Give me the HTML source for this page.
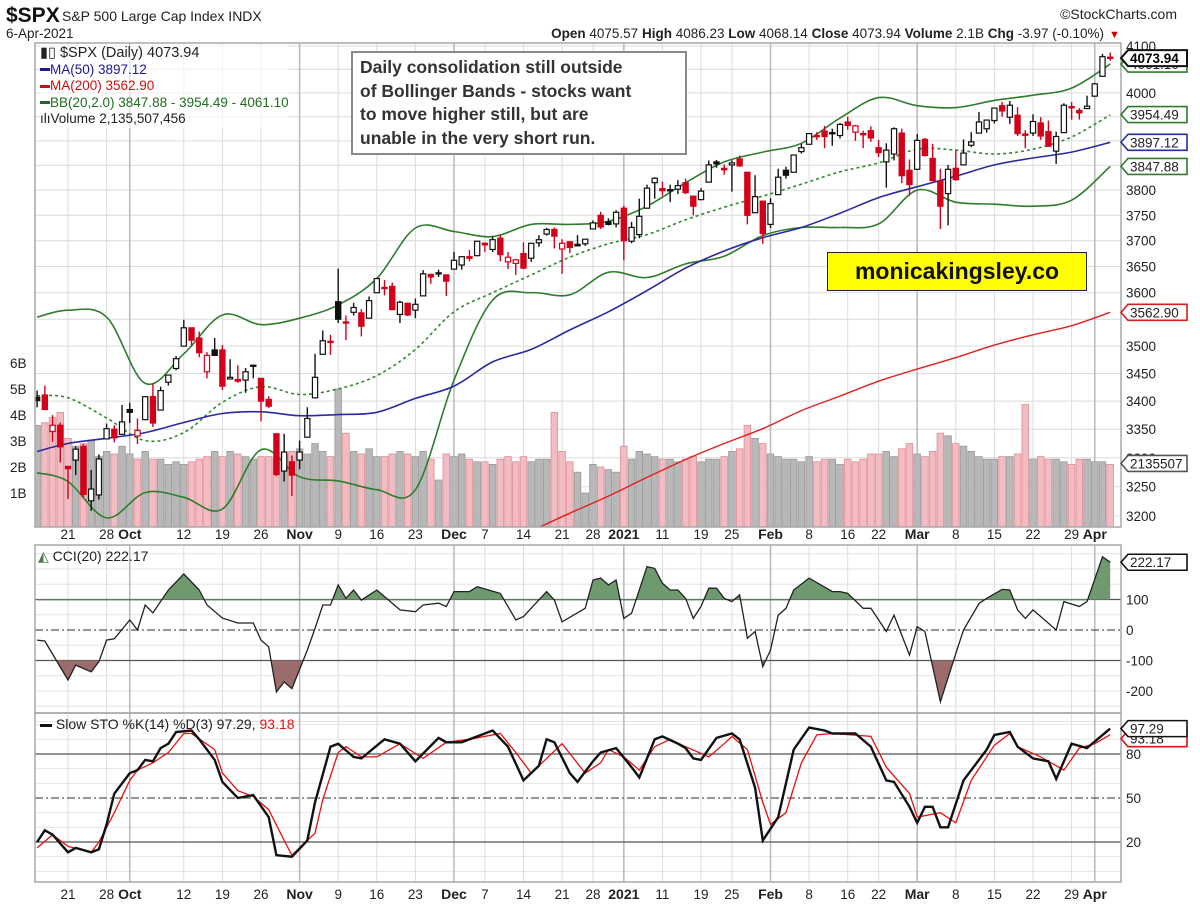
<!DOCTYPE html>
<html><head><meta charset="utf-8"><title>$SPX daily chart</title>
<style>
html,body{margin:0;padding:0;background:#fff;}
svg{display:block;font-family:"Liberation Sans",sans-serif;}
</style></head>
<body>
<svg id="chart" width="1200" height="908" viewBox="0 0 1200 908" xmlns="http://www.w3.org/2000/svg">
<defs>
<clipPath id="mainClip"><rect x="35" y="43" width="1086" height="484"/></clipPath>
<clipPath id="cciClip"><rect x="35" y="545" width="1086" height="168"/></clipPath>
<clipPath id="stoClip"><rect x="35" y="713" width="1086" height="169"/></clipPath>
<clipPath id="cciAbove"><rect x="35" y="545" width="1086" height="55.5"/></clipPath>
<clipPath id="cciBelow"><rect x="35" y="660.5" width="1086" height="53"/></clipPath>
</defs>
<rect x="0" y="0" width="1200" height="908" fill="#fff"/>
<g>
<text x="6" y="22" font-size="21" font-weight="bold" fill="#111">$SPX</text>
<text x="62" y="21" font-size="14" fill="#222">S&amp;P 500 Large Cap Index  INDX</text>
<text x="6" y="38" font-size="13.5" fill="#222">6-Apr-2021</text>
<text x="1177" y="19" font-size="14" fill="#222" text-anchor="end">©StockCharts.com</text>
<text x="1104" y="38" font-size="13.5" fill="#222" text-anchor="end"><tspan font-weight="bold">Open</tspan> 4075.57  <tspan font-weight="bold">High</tspan> 4086.23  <tspan font-weight="bold">Low</tspan> 4068.14  <tspan font-weight="bold">Close</tspan> 4073.94  <tspan font-weight="bold">Volume</tspan> 2.1B  <tspan font-weight="bold">Chg</tspan> -3.97 (-0.10%)</text>
<text x="1109" y="38" font-size="11" fill="#c00">▼</text>
</g>
<g id="grid"></g>
<g id="main" clip-path="url(#mainClip)"></g>
<g id="cci" clip-path="url(#cciClip)"></g>
<g id="sto" clip-path="url(#stoClip)"></g>
<g id="frames"></g>
<g id="overlay"></g>
</svg>
<script>
// ---------- DATA (index -4 = 15-Sep-2020 ... 135 = 6-Apr-2021) ----------
const opens = [3407,3411,3346,3357,
3285,3296,3320,3226,3236,3333,3350,3341,
3385,3338,3367,3408,3384,3434,3459,3500,3534,3515,3453,3493,3493,3440,3439,3438,3464,3441,3403,3342,3277,3293,
3296,3336,3406,3485,3508,3583,3543,3563,3562,3552,3600,3610,3612,3559,3580,3567,3594,3635,3638,3634,
3645,3653,3669,3671,3695,3683,3705,3659,3656,3675,3666,3696,3713,3722,3684,3698,3693,3694,3723,3750,3737,3733,
3764,3699,3712,3764,3815,3803,3801,3802,3815,3788,3781,3816,3857,3844,3851,3863,3836,3755,3778,
3732,3791,3840,3836,3878,3893,3910,3920,3917,3911,3939,3918,3915,3921,3886,3857,3873,3916,3840,
3842,3903,3864,3818,3793,3844,3851,3891,3916,3925,3942,3973,3949,3953,3914,3916,3937,3919,3879,3917,3969,3963,3967,
3993,4035,4076];
const highs = [3419,3428,3375,3362,
3285,3320,3324,3279,3306,3360,3357,3393,
3397,3369,3409,3432,3426,3447,3482,3549,3534,3527,3489,3515,3502,3476,3465,3460,3466,3441,3409,3342,3342,3304,
3330,3389,3486,3529,3521,3646,3557,3581,3569,3593,3628,3624,3619,3585,3581,3589,3643,3636,3644,3634,
3678,3670,3682,3699,3697,3708,3712,3678,3665,3697,3695,3711,3725,3726,3703,3698,3711,3703,3740,3757,3744,3760,
3769,3737,3783,3811,3826,3817,3811,3820,3823,3788,3804,3860,3861,3852,3860,3870,3836,3830,3778,
3784,3843,3847,3872,3894,3916,3918,3931,3925,3937,3950,3933,3921,3930,3902,3895,3928,3925,3862,
3914,3906,3894,3843,3851,3881,3903,3918,3960,3944,3969,3981,3983,3970,3922,3955,3949,3942,3919,3978,3981,3968,3994,
4021,4083,4086];
const lows = [3389,3384,3328,3292,
3229,3270,3232,3209,3228,3332,3327,3340,
3361,3324,3367,3354,3384,3428,3456,3500,3500,3480,3441,3482,3420,3440,3433,3415,3441,3364,3388,3268,3259,3234,
3280,3336,3405,3485,3484,3543,3511,3557,3518,3552,3600,3595,3567,3543,3556,3552,3594,3617,3630,3594,
3645,3644,3660,3670,3678,3678,3660,3645,3634,3645,3659,3688,3710,3685,3636,3676,3689,3690,3723,3723,3730,3726,
3662,3695,3705,3764,3783,3789,3776,3792,3792,3750,3780,3816,3845,3831,3797,3847,3732,3755,3694,
3725,3791,3823,3836,3874,3892,3902,3885,3890,3905,3923,3900,3885,3898,3867,3805,3860,3814,3789,
3842,3868,3818,3723,3730,3819,3851,3887,3916,3917,3936,3950,3935,3910,3885,3910,3902,3888,3853,3917,3944,3944,3966,
3993,4035,4068];
const closes = [3401,3385,3357,3319,
3281,3315,3237,3246,3298,3351,3335,3363,
3380,3348,3408,3361,3419,3447,3477,3534,3511,3488,3483,3483,3427,3443,3436,3453,3465,3400,3391,3271,3310,3270,
3310,3369,3443,3510,3509,3550,3545,3572,3537,3585,3627,3610,3568,3582,3558,3578,3636,3630,3638,3622,
3662,3669,3666,3699,3692,3702,3673,3668,3663,3647,3695,3702,3722,3709,3695,3687,3690,3703,3735,3727,3732,3756,
3700,3726,3748,3804,3824,3799,3801,3809,3795,3768,3798,3851,3853,3841,3855,3849,3750,3787,3714,
3773,3826,3830,3871,3886,3915,3911,3909,3916,3934,3932,3931,3913,3906,3876,3881,3925,3829,3811,
3901,3870,3819,3768,3842,3821,3875,3898,3939,3943,3968,3962,3974,3915,3913,3940,3910,3889,3909,3974,3971,3958,3972,
4019,4077,4073.94];
const volumes = [3.6,3.7,3.9,4.1,
3.1,2.8,2.9,3.0,2.4,2.6,2.5,2.8,
2.5,2.3,2.6,2.3,2.3,2.1,2.2,2.1,2.2,2.3,2.4,2.6,2.4,2.6,2.5,2.4,2.3,2.4,2.4,2.3,2.5,2.6,
2.7,2.5,2.9,2.6,2.4,5.0,3.3,2.6,2.5,2.7,2.4,2.4,2.5,2.6,2.5,2.4,2.6,2.3,1.5,2.5,
2.4,2.5,2.3,2.2,2.2,2.1,2.3,2.4,2.2,2.4,2.2,2.3,2.3,4.1,2.6,2.2,1.8,1.0,2.1,2.0,1.9,1.8,
2.8,2.3,2.6,2.5,2.4,2.3,2.3,2.2,2.3,2.4,2.2,2.3,2.3,2.4,2.6,2.7,3.6,3.1,2.9,
2.5,2.4,2.3,2.3,2.2,2.4,2.2,2.3,2.3,2.1,2.3,2.2,2.3,2.5,2.5,2.6,2.4,2.7,2.9,
2.5,2.4,2.6,3.3,3.2,2.9,2.8,2.6,2.4,2.3,2.3,2.4,2.4,2.5,4.4,2.3,2.4,2.3,2.3,2.2,2.1,2.3,2.3,
2.2,2.2,2.1];
// overlay indicator knots (day index -> value)
const bandDays = [-4,0,5,10,15,20,25,30,35,40,45,50,55,60,65,70,75,80,85,90,95,100,105,110,115,120,125,130,135];
const bbUpper = [3554,3567,3554,3432,3486,3558,3540,3552,3577,3627,3725,3718,3708,3732,3732,3738,3768,3815,3857,3877,3895,3947,3990,3973,3969,3984,3995,4010,4061];
const bbMid = [3410,3406,3370,3330,3344,3398,3426,3412,3422,3446,3494,3564,3600,3634,3668,3694,3712,3741,3766,3788,3812,3837,3855,3883,3881,3873,3883,3908,3954];
const bbLower = [3274,3259,3197,3240,3232,3212,3314,3267,3260,3245,3245,3438,3586,3600,3596,3639,3629,3655,3670,3710,3726,3726,3733,3800,3776,3772,3768,3780,3848];
const ma50 = [3311,3325,3334,3344,3362,3378,3381,3374,3376,3380,3405,3427,3471,3494,3530,3564,3604,3647,3680,3706,3726,3754,3785,3807,3828,3851,3865,3877,3897];
const ma200Days = [60,65,70,75,80,85,90,95,100,105,110,115,120,125,130,135];
const ma200 = [3175,3205,3234,3266,3297,3325,3351,3383,3409,3436,3458,3479,3502,3521,3538,3563];
const cciDays = [-4,-3,0,1,3,4,5,6,8,9,10,11,13,15,17,18,20,22,24,25,26,27,28,29,31,32,33,34,35,36,37,38,40,43,45,46,48,49,50,52,53,56,58,59,62,63,64,67,68,69,70,71,72,73,75,76,77,78,79,80,81,82,83,84,85,86,87,88,89,90,91,92,93,94,96,99,100,101,103,104,106,107,109,110,111,113,115,116,118,119,121,122,123,124,125,128,129,131,132,134,135];
const cciVals = [-33,-36,-164,-115,-137,-104,-33,-29,33,0,82,56,131,184,131,82,39,23,23,-33,-55,-203,-170,-192,-66,5,82,82,148,104,131,98,131,66,60,82,88,77,126,126,142,120,33,44,126,98,27,71,164,170,148,164,38,55,208,202,153,131,131,104,38,77,137,137,104,93,115,-27,-5,-120,-66,49,71,131,170,126,126,120,71,71,-5,49,-82,11,-5,-235,-77,0,87,104,133,131,66,38,66,0,93,77,93,240,222];
const stoKDays = [-4,-3,-2,0,1,3,4,5,6,8,9,10,11,12,13,14,16,17,19,20,22,24,26,27,29,31,32,34,35,37,38,41,43,45,48,49,51,53,55,57,59,61,62,63,65,66,68,69,71,73,74,76,77,79,80,81,82,84,86,87,89,90,92,94,96,98,99,102,104,106,107,109,110,111,112,113,114,116,119,120,122,123,125,127,128,130,132,135];
const stoK = [20,28,25,13,16,13,15,32,53,67,69,76,75,84,87,95,96,90,76,61,50,52,37,11,10,21,47,85,87,78,77,90,87,75,91,88,88,92,96,85,62,72,90,88,67,61,75,81,84,71,64,90,92,87,84,77,76,91,94,90,57,21,37,83,98,96,94,94,85,62,61,44,33,44,44,30,30,62,83,93,95,85,77,75,63,87,84,97.29];
const stoDDays = [-4,-2,0,3,4,6,8,9,11,13,15,16,19,20,22,24,26,28,29,32,33,35,36,38,40,43,46,49,52,56,58,60,64,67,69,70,72,74,76,78,80,83,85,86,88,90,91,93,95,97,99,104,106,109,110,113,115,117,120,122,123,126,129,131,133,135];
const stoD = [16,25,17,13,20,40,62,69,74,81,94,94,83,67,55,51,42,21,11,26,49,81,85,78,78,87,77,88,90,94,81,67,87,67,74,83,78,69,85,90,85,78,87,92,83,47,32,40,74,93,94,92,71,53,37,40,33,62,86,94,85,78,69,84,87,93.18];
const priceTicks = [3200,3250,3300,3350,3400,3450,3500,3550,3600,3650,3700,3750,3800,3850,3900,3950,4000,4050,4100];
const priceTickLabels = [3200,3250,3300,3350,3400,3450,3500,3600,3650,3700,3750,3800,4000,4100];
const volTicks = [1,2,3,4,5,6];
const xLabels = ["21","28","Oct","12","19","26","Nov","9","16","23","Dec","7","14","21","28","2021","11","19","25","Feb","8","16","22","Mar","8","15","22","29","Apr"];
const xLabelDays = [0,5,8,15,20,25,30,35,40,45,50,54,59,64,68,72,77,82,86,91,96,101,105,110,115,120,125,130,133];
const xMonthFlags = [0,0,1,0,0,0,1,0,0,0,1,0,0,0,0,1,0,0,0,1,0,0,0,1,0,0,0,0,1];

// ---------- SCALES ----------
const X0 = -4;
const xS = i => 68 + 7.72 * i;
const pY = p => 46 + 1897 * (Math.log(4100) - Math.log(p));
const vY = v => 519 - 26 * v;
const cY = v => 630 - 0.305 * v;
const sY = v => 798 - (v - 50) * 1.467;
const NS = "http://www.w3.org/2000/svg";
function mk(tag, attrs, parent) {
  const e = document.createElementNS(NS, tag);
  for (const k in attrs) e.setAttribute(k, attrs[k]);
  parent.appendChild(e);
  return e;
}
const grid = document.getElementById('grid');
const main = document.getElementById('main');
const cci = document.getElementById('cci');
const sto = document.getElementById('sto');
const frames = document.getElementById('frames');
const overlay = document.getElementById('overlay');
const L = 35, R = 1121;

// ---------- GRID ----------
priceTicks.forEach(p => {
  const ln = mk('line', {x1: L, x2: R, y1: pY(p), y2: pY(p), stroke: '#dcdcdc', 'stroke-width': 1}, grid);
  
  
});
[-300,-250,-200,-150,-50,50,150,200,250].forEach(v => {
  const ln = mk('line', {x1: L, x2: R, y1: cY(v), y2: cY(v), stroke: '#e4e4e4', 'stroke-width': 1}, grid);
  
  
});
[0,10,30,40,60,70,90,100].forEach(v => {
  const ln = mk('line', {x1: L, x2: R, y1: sY(v), y2: sY(v), stroke: '#e4e4e4', 'stroke-width': 1}, grid);
  
  
});
xLabelDays.forEach((d, k) => {
  [[43,527],[545,713],[713,882]].forEach(([a,b]) => {
    const ln = mk('line', {x1: xS(d), x2: xS(d), y1: a, y2: b, stroke: xMonthFlags[k] ? '#b8b8b8' : '#dcdcdc', 'stroke-width': xMonthFlags[k] ? 1.5 : 1}, grid);
    
    
  });
});

// ---------- VOLUME ----------
volumes.forEach((v, k) => {
  const i = k + X0;
  const down = k > 0 && closes[k] < closes[k-1];
  const r = mk('rect', {x: xS(i) - 3.3, y: vY(v), width: 6.6, height: 519 - vY(v) + 8,
    fill: down ? '#f2bcc3' : '#b8b8b8', stroke: down ? '#e28c97' : '#9a9a9a', 'stroke-width': 0.8}, main);
  
  
});

// ---------- OVERLAY LINES ----------
function line(days, vals, yf, parent, attrs, name) {
  const pts = days.map((d, k) => xS(d).toFixed(1) + ',' + yf(vals[k]).toFixed(1)).join(' ');
  const e = mk('polyline', Object.assign({points: pts, fill: 'none'}, attrs), parent);
  
  
  return e;
}
function smooth(days, vals, yf, parent, attrs, name) {
  const P = days.map((d, k) => [xS(d), yf(vals[k])]);
  let d = 'M' + P[0][0].toFixed(1) + ',' + P[0][1].toFixed(1);
  for (let k = 0; k < P.length - 1; k++) {
    const p0 = P[Math.max(0, k-1)], p1 = P[k], p2 = P[k+1], p3 = P[Math.min(P.length-1, k+2)];
    const c1 = [p1[0] + (p2[0]-p0[0])/6, p1[1] + (p2[1]-p0[1])/6];
    const c2 = [p2[0] - (p3[0]-p1[0])/6, p2[1] - (p3[1]-p1[1])/6];
    d += ` C${c1[0].toFixed(1)},${c1[1].toFixed(1)} ${c2[0].toFixed(1)},${c2[1].toFixed(1)} ${p2[0].toFixed(1)},${p2[1].toFixed(1)}`;
  }
  const e = mk('path', Object.assign({d: d, fill: 'none'}, attrs), parent);
  
  
  return e;
}
smooth(bandDays, bbUpper, pY, main, {stroke: '#2e7d2e', 'stroke-width': 1.6}, 'bb-upper-line');
smooth(bandDays, bbLower, pY, main, {stroke: '#2e7d2e', 'stroke-width': 1.6}, 'bb-lower-line');
smooth(bandDays, bbMid, pY, main, {stroke: '#2e8b2e', 'stroke-width': 1.6, 'stroke-dasharray': '3,3'}, 'bb-middle-line');
smooth(bandDays, ma50, pY, main, {stroke: '#2a2aa0', 'stroke-width': 1.6}, 'ma50-line');
smooth(ma200Days, ma200, pY, main, {stroke: '#e02020', 'stroke-width': 1.4}, 'ma200-line');

// ---------- CANDLES ----------
closes.forEach((c, k) => {
  const i = k + X0, o = opens[k];
  const down = k > 0 && c < closes[k-1];
  const col = down ? '#d4001a' : '#111';
  const x = xS(i);
  const w = mk('line', {x1: x, x2: x, y1: pY(highs[k]), y2: pY(lows[k]), stroke: col, 'stroke-width': 1.4}, main);
  
  
  const top = pY(Math.max(o, c)), bot = pY(Math.min(o, c));
  const b = mk('rect', {x: x - 2.6, y: top, width: 5.2, height: Math.max(1.2, bot - top),
    fill: c > o ? '#fff' : col, stroke: col, 'stroke-width': 1.2}, main);
  
  
});

// ---------- CCI ----------
[[100,'#555',''],[-100,'#555',''],[0,'#555','8,3,2,3']].forEach(([v,c,d]) => {
  const ln = mk('line', {x1: L, x2: R, y1: cY(v), y2: cY(v), stroke: c, 'stroke-width': 1.3, 'stroke-dasharray': d}, cci);
  
  
});
function area(days, vals, yf, base, parent, fill, clip, name) {
  let d = 'M' + xS(days[0]) + ',' + yf(base);
  days.forEach((dd, k) => { d += ' L' + xS(dd).toFixed(1) + ',' + yf(vals[k]).toFixed(1); });
  d += ' L' + xS(days[days.length-1]) + ',' + yf(base) + ' Z';
  const e = mk('path', {d: d, fill: fill, 'clip-path': clip}, parent);
  
  
}
area(cciDays, cciVals, cY, 100, cci, '#6f9a6f', 'url(#cciAbove)', 'cci-overbought-fill');
area(cciDays, cciVals, cY, -100, cci, '#9c6b6b', 'url(#cciBelow)', 'cci-oversold-fill');
line(cciDays, cciVals, cY, cci, {stroke: '#222', 'stroke-width': 1.3}, 'cci-line');

// ---------- STO ----------
[[80,''],[20,''],[50,'8,3,2,3']].forEach(([v,d]) => {
  const ln = mk('line', {x1: L, x2: R, y1: sY(v), y2: sY(v), stroke: '#555', 'stroke-width': 1.3, 'stroke-dasharray': d}, sto);
  
  
});
line(stoDDays, stoD, sY, sto, {stroke: '#e81010', 'stroke-width': 1.3}, 'sto-d-line');
line(stoKDays, stoK, sY, sto, {stroke: '#111', 'stroke-width': 2.4}, 'sto-k-line');

// ---------- FRAMES ----------
[[43,527],[545,713],[713,882]].forEach(([a,b]) => {
  const f = mk('rect', {x: L, y: a, width: R - L, height: b - a, fill: 'none', stroke: '#a8a8a8', 'stroke-width': 1.5}, frames);
  
  
});

// ---------- AXIS LABELS ----------
function txt(x, y, s, attrs, name) {
  const t = mk('text', Object.assign({x: x, y: y, 'font-size': 13.5, fill: '#222'}, attrs), overlay);
  t.textContent = s;
  
  
  return t;
}
priceTickLabels.forEach(p => txt(1126, pY(p) + 5, String(p), {}, 'price-tick-label'));
volTicks.forEach(v => txt(10, vY(v) + 5, v + 'B', {}, 'volume-tick-label'));
[[100,'100'],[0,'0'],[-100,'-100'],[-200,'-200']].forEach(([v,s]) => txt(1126, cY(v) + 5, s, {}, 'cci-tick-label'));
[[80,'80'],[50,'50'],[20,'20']].forEach(([v,s]) => txt(1126, sY(v) + 5, s, {}, 'sto-tick-label'));
xLabels.forEach((s, k) => {
  [539, 899].forEach(y => txt(xS(xLabelDays[k]), y, s, {'text-anchor': 'middle', 'font-weight': xMonthFlags[k] ? 'bold' : 'normal', 'font-size': xMonthFlags[k] ? 14 : 13.5}, 'x-axis-label'));
});

// ---------- VALUE TAGS ----------
function tag(y, s, col, bold, name) {
  const g = mk('g', {}, overlay);
  
  
  const x = 1121, w = 66, h = 16;
  mk('polygon', {points: `${x},${y} ${x+7},${y-h/2} ${x+w},${y-h/2} ${x+w},${y+h/2} ${x+7},${y+h/2}`, fill: '#fff', stroke: col, 'stroke-width': bold ? 2 : 1.6}, g);
  const t = mk('text', {x: x + 9, y: y + 5, 'font-size': 13.5, fill: bold ? '#000' : '#222', 'font-weight': bold ? 'bold' : 'normal'}, g);
  t.textContent = s;
}
tag(pY(4061.10), '4061.10', '#2e7d2e', false, 'bb-upper-value-tag');
tag(pY(4073.94), '4073.94', '#111', true, 'close-value-tag');
tag(pY(3954.49), '3954.49', '#2e7d2e', false, 'bb-middle-value-tag');
tag(pY(3897.12), '3897.12', '#2a2aa0', false, 'ma50-value-tag');
tag(pY(3847.88), '3847.88', '#2e7d2e', false, 'bb-lower-value-tag');
tag(pY(3562.90), '3562.90', '#d02020', false, 'ma200-value-tag');
tag(vY(2.1355), '2135507', '#555', false, 'volume-value-tag');
tag(cY(222.17), '222.17', '#111', false, 'cci-value-tag');
tag(sY(93.18) + 4, '93.18', '#e81010', false, 'sto-d-value-tag');
tag(sY(97.29), '97.29', '#111', false, 'sto-k-value-tag');
</script>
<div style="position:absolute;left:0;top:0;width:1200px;height:908px;pointer-events:none;font-family:'Liberation Sans',sans-serif;">
  <div style="position:absolute;left:40px;top:45px;font-size:13.5px;line-height:16.5px;color:#222;background:rgba(255,255,255,0.6);">
    <div style="font-size:14.5px;">▮▯ $SPX (Daily) 4073.94</div>
    <div style="color:#1a1a90;"><span style="display:inline-block;width:10px;height:3px;background:#1a1a90;vertical-align:middle;"></span>MA(50) 3897.12</div>
    <div style="color:#d01010;"><span style="display:inline-block;width:10px;height:3px;background:#d01010;vertical-align:middle;"></span>MA(200) 3562.90</div>
    <div style="color:#1f6e1f;"><span style="display:inline-block;width:10px;height:3px;background:#1f6e1f;vertical-align:middle;"></span>BB(20,2.0) 3847.88 - 3954.49 - 4061.10</div>
    <div>ılıVolume 2,135,507,456</div>
  </div>
  <div style="position:absolute;left:351px;top:51px;width:336px;height:104px;border:2px solid #8a8a8a;background:#fff;padding:3px 0 0 7px;box-sizing:border-box;font-size:17.5px;font-weight:bold;line-height:23.5px;color:#333;">Daily consolidation still outside<br>of Bollinger Bands - stocks want<br>to move higher still, but are<br>unable in the very short run.</div>
  <div style="position:absolute;left:827px;top:252px;width:258px;height:37px;border:1.5px solid #222;background:#ffff00;font-size:23px;font-weight:bold;line-height:37px;text-align:center;color:#111;">monicakingsley.co</div>
  <div style="position:absolute;left:38px;top:548px;font-size:14px;color:#222;"><span style="color:#4a7a4a;">◭</span> CCI(20) 222.17</div>
  <div style="position:absolute;left:40px;top:716px;font-size:14px;color:#222;"><span style="display:inline-block;width:12px;height:3px;background:#111;vertical-align:middle;"></span> Slow STO %K(14) %D(3) 97.29, <span style="color:#e81010;">93.18</span></div>
</div>
</body></html>
